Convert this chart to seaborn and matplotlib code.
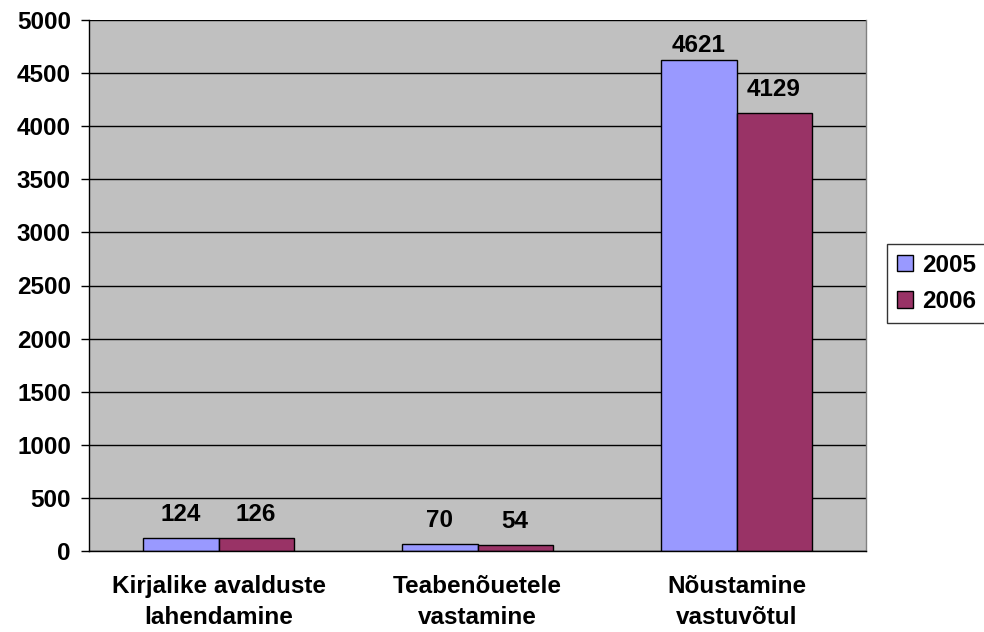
import pandas as pd
import matplotlib
matplotlib.use("Agg")
import matplotlib.pyplot as plt
import seaborn as sns
from matplotlib.patches import Patch

categories = ["Kirjalike avalduste\nlahendamine", "Teabenõuetele\nvastamine", "Nõustamine\nvastuvõtul"]
years = ["2005", "2006"]
values_2005 = [124, 70, 4621]
values_2006 = [126, 54, 4129]
yticks = [0, 500, 1000, 1500, 2000, 2500, 3000, 3500, 4000, 4500, 5000]

df = pd.DataFrame({
    "category": categories * 2,
    "year": [years[0]] * 3 + [years[1]] * 3,
    "value": values_2005 + values_2006,
})

sns.set_style("white")
plt.rcParams["font.family"] = ["Liberation Sans", "DejaVu Sans"]
plt.rcParams["font.weight"] = "bold"
plt.rcParams["text.color"] = "black"
plt.rcParams["xtick.color"] = "black"
plt.rcParams["ytick.color"] = "black"

FS = 17.5

fig = plt.figure(figsize=(9.84, 6.32), dpi=100)
ax = fig.add_axes([89 / 984, 81 / 632, 777 / 984, 531 / 632])
ax.set_facecolor("#C0C0C0")

palette = {"2005": "#9999FF", "2006": "#993366"}
sns.barplot(data=df, x="category", y="value", hue="year", palette=palette,
            width=0.58, edgecolor="black", linewidth=1, saturation=1,
            ax=ax, legend=False)

for cont in ax.containers:
    texts = ax.bar_label(cont, labels=[str(int(v)) for v in cont.datavalues],
                         padding=8.5, fontsize=FS, fontweight="bold", color="black")
    # Excel pushes the label down when it would run past the top of the plot
    for t, v in zip(texts, cont.datavalues):
        if v > 4500:
            t.xyann = (0, 2)

ax.set_ylim(0, 5000)
ax.set_xlim(-0.5, 2.5)
ax.set_yticks(yticks)
ax.set_yticklabels([str(t) for t in yticks], fontsize=FS, fontweight="bold")
ax.yaxis.grid(True, color="black", linewidth=1)
ax.set_axisbelow(True)

ax.set_xticks([0, 1, 2])
ax.set_xticklabels(categories, fontsize=FS, fontweight="bold", linespacing=1.45)
ax.set_xticks([-0.5, 0.5, 1.5, 2.5], minor=True)
ax.tick_params(axis="x", which="major", length=0, pad=17)
ax.tick_params(axis="x", which="minor", length=6, width=1, color="black", direction="out")
ax.tick_params(axis="y", length=6, width=1, color="black", direction="out", left=True, pad=7)
ax.set_xlabel("")
ax.set_ylabel("")

for side in ["left", "bottom"]:
    ax.spines[side].set_color("black")
    ax.spines[side].set_linewidth(1)
ax.spines["top"].set_visible(False)
ax.spines["right"].set_color("#808080")
ax.spines["right"].set_linewidth(1)

handles = [Patch(facecolor=palette[y], edgecolor="black", linewidth=1, label=y) for y in years]
leg = fig.legend(handles=handles, loc="upper left", bbox_to_anchor=(887 / 984, 1 - 244 / 632),
                 prop={"size": FS, "weight": "bold"}, frameon=True, fancybox=False,
                 handlelength=0.65, handleheight=0.65, handletextpad=0.4,
                 borderpad=0.4, labelspacing=0.55, borderaxespad=0)
leg.get_frame().set_edgecolor("black")
leg.get_frame().set_linewidth(1)

fig.savefig("out.png", dpi=100)
